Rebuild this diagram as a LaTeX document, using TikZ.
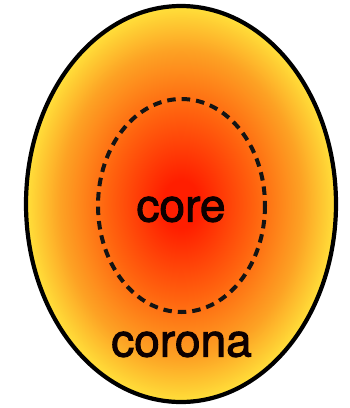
\documentclass[tikz,border=0pt]{standalone}
\usepackage{fontspec}
\newfontfamily\lblfont[FakeBold=2.2]{TeX Gyre Heros}
\definecolor{cred}{RGB}{255,30,0}
\definecolor{corange}{RGB}{255,100,15}
\definecolor{camber}{RGB}{253,162,36}
\definecolor{cyellow}{RGB}{255,224,58}
\pgfdeclareradialshading{sunshade}{\pgfpoint{0bp}{0bp}}{%
  color(0bp)=(cred); color(3bp)=(cred); color(12bp)=(corange); color(19.5bp)=(camber);
  color(25bp)=(cyellow); color(50bp)=(cyellow)}
\tikzset{
  outerblob/.style={draw=black, line width=4.2pt, shading=sunshade},
  coreline/.style={draw=black!92, line width=4pt, dash pattern=on 8.5pt off 6pt},
  lbl/.style={font=\lblfont\fontsize{46}{50}\selectfont, text=black!95!red, anchor=base, inner sep=0pt}
}
\begin{document}
\begin{tikzpicture}[x=1pt,y=-1pt]
\useasboundingbox (0,0) rectangle (350,408);
\path[outerblob] (181,204) ellipse [x radius=155, y radius=198];
\draw[coreline] (181.5,205.5) ellipse [x radius=83.5, y radius=106.5];
\node[lbl] (core) at (181,221.5) {core};
\node[lbl] (corona) at (181.5,356.5) {corona};
\end{tikzpicture}
\end{document}
